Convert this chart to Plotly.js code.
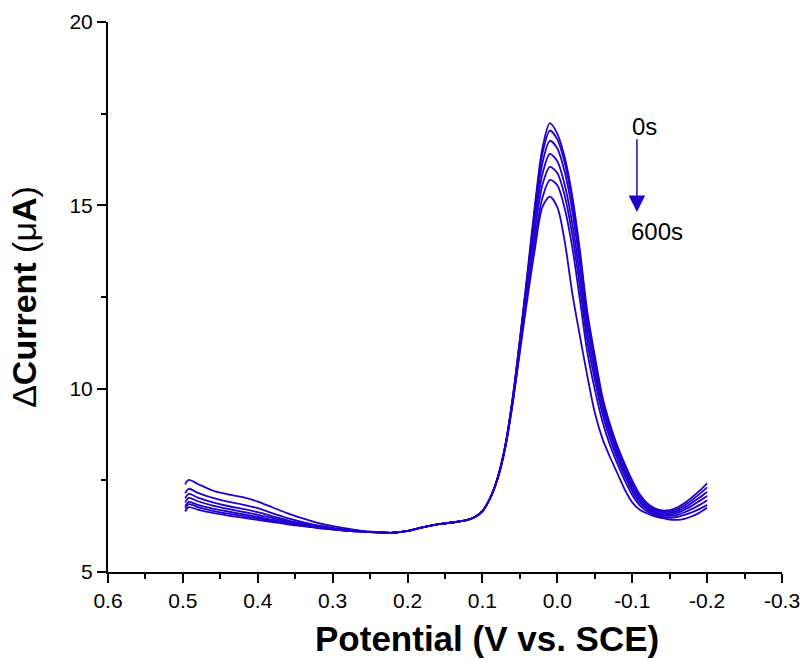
<!DOCTYPE html>
<html>
<head>
<meta charset="utf-8">
<script src="https://cdn.plot.ly/plotly-3.0.1.min.js"></script>
<style>
html,body{margin:0;padding:0;background:#fff;}
#chart{width:802px;height:662px;}
</style>
</head>
<body>
<div id="chart"></div>
<script>
// Potential (V vs. SCE)
const potential = [0.497, 0.492, 0.48, 0.46, 0.44, 0.42, 0.40, 0.38, 0.36, 0.34, 0.32, 0.30, 0.28, 0.26, 0.24,
  0.22, 0.20, 0.18, 0.16, 0.14, 0.12, 0.11, 0.10, 0.09, 0.08, 0.07, 0.06, 0.05,
  0.04, 0.03, 0.02, 0.01, 0.00, -0.01, -0.02, -0.03, -0.04,
  -0.05, -0.06, -0.07, -0.08, -0.09, -0.10, -0.11, -0.12, -0.13, -0.14, -0.15, -0.16, -0.17, -0.18, -0.19, -0.20];

// Delta current (uA), one curve per time (0s ... 600s)
const curve0 = [7.39, 7.51, 7.40, 7.22, 7.12, 7.04, 6.92, 6.76, 6.60, 6.46, 6.34, 6.25, 6.18, 6.12, 6.09,
  6.07, 6.12, 6.22, 6.30, 6.35, 6.42, 6.50, 6.66, 7.00, 7.55, 8.40, 9.70, 11.35,
  13.15, 15.00, 16.55, 17.24, 16.95, 16.30, 15.25, 13.80, 12.10,
  10.90, 9.80, 9.05, 8.45, 7.95, 7.50, 7.12, 6.88, 6.74, 6.68, 6.69, 6.76, 6.88, 7.04, 7.22, 7.42];
const curve1 = [7.15, 7.27, 7.16, 7.02, 6.92, 6.84, 6.74, 6.60, 6.47, 6.36, 6.27, 6.20, 6.15, 6.11, 6.08,
  6.07, 6.12, 6.22, 6.30, 6.35, 6.42, 6.50, 6.66, 7.00, 7.55, 8.40, 9.68, 11.32,
  13.08, 14.90, 16.40, 17.04, 16.80, 16.15, 15.10, 13.65, 11.98,
  10.80, 9.72, 8.98, 8.38, 7.88, 7.43, 7.06, 6.84, 6.71, 6.65, 6.65, 6.71, 6.82, 6.96, 7.13, 7.31];
const curve2 = [7.01, 7.13, 7.03, 6.90, 6.80, 6.72, 6.63, 6.52, 6.41, 6.32, 6.24, 6.18, 6.14, 6.10, 6.08,
  6.07, 6.12, 6.22, 6.30, 6.35, 6.42, 6.50, 6.66, 7.00, 7.55, 8.40, 9.66, 11.28,
  13.00, 14.75, 16.15, 16.76, 16.55, 15.90, 14.85, 13.40, 11.80,
  10.65, 9.60, 8.88, 8.30, 7.80, 7.36, 7.00, 6.80, 6.68, 6.62, 6.61, 6.66, 6.76, 6.89, 7.03, 7.18];
const curve3 = [6.90, 7.02, 6.93, 6.81, 6.72, 6.64, 6.56, 6.47, 6.38, 6.30, 6.23, 6.17, 6.13, 6.10, 6.08,
  6.07, 6.12, 6.22, 6.30, 6.35, 6.42, 6.50, 6.66, 7.00, 7.54, 8.38, 9.63, 11.22,
  12.90, 14.55, 15.85, 16.40, 16.20, 15.55, 14.50, 13.10, 11.55,
  10.45, 9.48, 8.78, 8.20, 7.72, 7.28, 6.95, 6.76, 6.64, 6.58, 6.57, 6.61, 6.70, 6.81, 6.94, 7.07];
const curve4 = [6.79, 6.91, 6.83, 6.73, 6.65, 6.58, 6.50, 6.42, 6.35, 6.28, 6.22, 6.16, 6.12, 6.10, 6.08,
  6.07, 6.12, 6.22, 6.30, 6.35, 6.42, 6.50, 6.66, 7.00, 7.53, 8.36, 9.60, 11.15,
  12.75, 14.30, 15.55, 16.05, 15.88, 15.25, 14.20, 12.80, 11.30,
  10.25, 9.33, 8.65, 8.10, 7.62, 7.20, 6.89, 6.71, 6.60, 6.54, 6.53, 6.56, 6.63, 6.72, 6.83, 6.96];
const curve5 = [6.73, 6.85, 6.77, 6.67, 6.59, 6.53, 6.46, 6.39, 6.32, 6.26, 6.21, 6.16, 6.12, 6.10, 6.08,
  6.07, 6.12, 6.22, 6.30, 6.35, 6.42, 6.50, 6.66, 7.00, 7.53, 8.35, 9.57, 11.08,
  12.60, 14.05, 15.20, 15.69, 15.55, 14.90, 13.85, 12.45, 11.00,
  9.98, 9.12, 8.48, 7.96, 7.50, 7.10, 6.82, 6.66, 6.56, 6.50, 6.48, 6.50, 6.56, 6.63, 6.72, 6.83];
const curve6 = [6.65, 6.77, 6.70, 6.61, 6.54, 6.48, 6.42, 6.36, 6.30, 6.25, 6.20, 6.16, 6.12, 6.10, 6.08,
  6.07, 6.12, 6.22, 6.30, 6.35, 6.42, 6.50, 6.66, 7.00, 7.52, 8.33, 9.54, 11.00,
  12.45, 13.80, 14.95, 15.24, 14.95, 14.00, 12.60, 11.45, 10.35,
  9.35, 8.65, 8.15, 7.70, 7.25, 6.90, 6.70, 6.60, 6.52, 6.47, 6.43, 6.42, 6.45, 6.52, 6.62, 6.75];

const curves = [curve0, curve1, curve2, curve3, curve4, curve5, curve6];

const xTickVals = [0.6, 0.5, 0.4, 0.3, 0.2, 0.1, 0.0, -0.1, -0.2, -0.3];
const xTickText = ['0.6', '0.5', '0.4', '0.3', '0.2', '0.1', '0.0', '-0.1', '-0.2', '-0.3'];
const yTickVals = [5, 10, 15, 20];
const yTickText = ['5', '10', '15', '20'];

const lineColor = '#2200cc';
const font = 'Liberation Sans, Arial, sans-serif';

const traces = curves.map(c => ({
  x: potential, y: c, type: 'scatter', mode: 'lines',
  line: {color: lineColor, width: 1.8, shape: 'spline', smoothing: 0.8},
  hoverinfo: 'skip', showlegend: false
}));

const layout = {
  width: 802, height: 662,
  margin: {l: 108, r: 20, t: 22, b: 90},
  paper_bgcolor: '#fff', plot_bgcolor: '#fff',
  font: {family: font, color: '#000'},
  xaxis: {
    range: [0.6, -0.3], tickvals: xTickVals, ticktext: xTickText,
    ticks: 'outside', ticklen: 9, tickwidth: 2, tickcolor: '#000',
    showline: true, linewidth: 2, linecolor: '#000',
    showgrid: false, zeroline: false,
    tickfont: {size: 21, family: font},
    minor: {dtick: 0.05, tick0: 0, ticks: 'outside', ticklen: 5, tickwidth: 2, tickcolor: '#000', showgrid: false}
  },
  yaxis: {
    range: [5, 20], tickvals: yTickVals, ticktext: yTickText,
    ticks: 'outside', ticklen: 9, tickwidth: 2, tickcolor: '#000',
    showline: true, linewidth: 2, linecolor: '#000',
    showgrid: false, zeroline: false,
    tickfont: {size: 21, family: font},
    minor: {dtick: 2.5, tick0: 0, ticks: 'outside', ticklen: 5, tickwidth: 2, tickcolor: '#000', showgrid: false}
  },
  annotations: [
    {xref: 'paper', yref: 'paper', x: 0.563, y: -0.12, xanchor: 'center', yanchor: 'middle',
     text: '<b>Potential (V vs. SCE)</b>', showarrow: false, font: {size: 35, family: font}},
    {xref: 'paper', yref: 'paper', x: -0.124, y: 0.501, xanchor: 'center', yanchor: 'middle', textangle: -90,
     text: 'Δ<b>Current</b> (μ<b>A</b>)', showarrow: false, font: {size: 34, family: font}},
    {xref: 'x', yref: 'y', x: -0.097, y: 17.14, xanchor: 'left', yanchor: 'middle',
     text: '0s', showarrow: false, font: {size: 24, family: font}},
    {xref: 'x', yref: 'y', x: -0.0956, y: 14.3, xanchor: 'left', yanchor: 'middle',
     text: '600s', showarrow: false, font: {size: 24, family: font}},
    {xref: 'x', yref: 'y', axref: 'x', ayref: 'y', x: -0.1063, y: 14.82, ax: -0.1063, ay: 16.84,
     text: '', showarrow: true, arrowhead: 2, arrowsize: 2.2, arrowwidth: 1.5, arrowcolor: lineColor}
  ]
};

Plotly.newPlot('chart', traces, layout, {displayModeBar: false, staticPlot: true});
</script>
</body>
</html>
